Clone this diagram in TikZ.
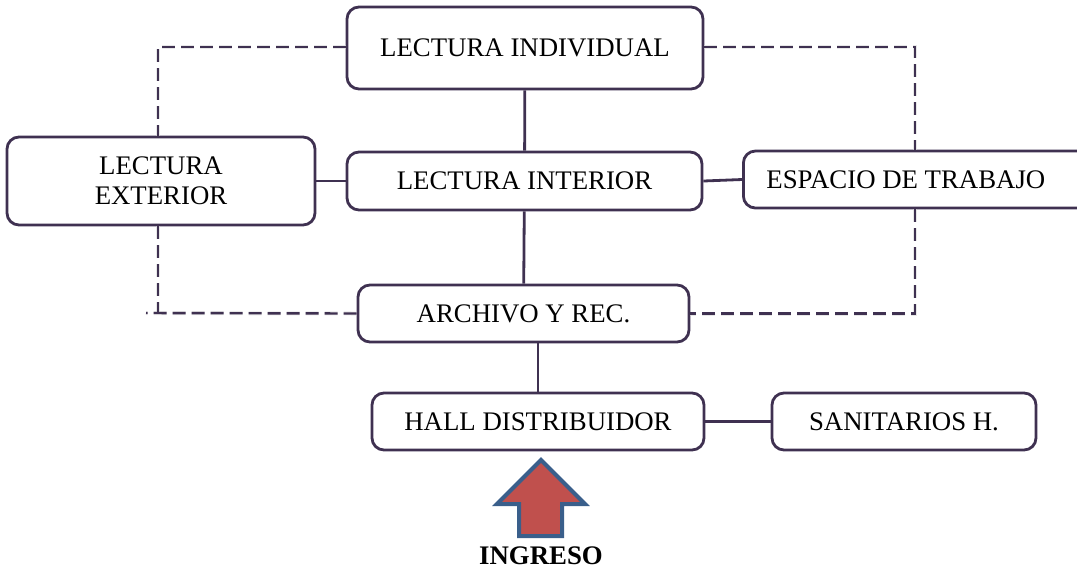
\documentclass[tikz,border=0pt]{standalone}
\usepackage{fontspec}
\setmainfont{Liberation Serif}
\usepackage{xcolor}
\usetikzlibrary{arrows.meta}
\definecolor{linecol}{HTML}{3F3151}
\definecolor{arrowfill}{HTML}{C0504D}
\definecolor{arrowline}{HTML}{3A5F8B}

\begin{document}
\begin{tikzpicture}[x=0.5pt, y=-0.5pt,
    box/.style={draw=linecol, line width=1.4pt, rounded corners=6pt, fill=white,
        font=\fontsize{13.4}{15}\selectfont, align=center, inner sep=0pt},
    link/.style={draw=linecol, line width=1.4pt},
    dashlink/.style={draw=linecol, line width=1.2pt, dash pattern=on 6.5pt off 3pt},
    dashshade/.style={draw=black!15, line width=2pt, dash pattern=on 6.5pt off 3pt, yshift=-2.5pt, opacity=0.6}]
    \useasboundingbox (0,0) rectangle (1077,570);
    % boxes
    \node[box, minimum width=178pt, minimum height=41pt] (indiv) at (525,48) {LECTURA INDIVIDUAL};
    \node[box, minimum width=154pt, minimum height=44pt] (exterior) at (161,181) {LECTURA\\EXTERIOR};
    \node[box, minimum width=177.5pt, minimum height=29pt] (interior) at (524.5,181) {LECTURA INTERIOR};
    \node[box, anchor=west, inner xsep=11.5pt, minimum height=28.5pt] (espacio) at (742,179.5) {\makebox[170pt][l]{ESPACIO DE TRABAJO}};
    \node[box, minimum width=165.5pt, minimum height=28.5pt] (archivo) at (523.5,313.5) {ARCHIVO Y REC.};
    \node[box, minimum width=166pt, minimum height=28.5pt] (hall) at (538,421.5) {HALL DISTRIBUIDOR};
    \node[box, minimum width=132pt, minimum height=28.5pt] (sanitarios) at (904,421.5) {SANITARIOS H.};
    \node[font=\fontsize{13.4}{15}\selectfont\bfseries, inner sep=0pt] (ingreso) at (541,556) {INGRESO};
    % corners of the dashed frame
    \coordinate (lt) at (158,47);
    \coordinate (lb) at (146,313);
    \coordinate (rt) at (915,47);
    % dashed frame
    \foreach \st in {dashshade, dashlink} {
        \draw[\st] (indiv.west |- lt) -- (lt) -- (lt |- exterior.north);
        \draw[\st] (lt |- exterior.south) -- (lt |- archivo.west);
        \draw[\st] (archivo.west) -- (lb);
        \draw[\st] (indiv.east |- rt) -- (rt) -- (rt |- espacio.north);
        \draw[\st] (rt |- espacio.south) -- (rt |- archivo.east) -- (archivo.east);
    }
    % solid links
    \draw[link] (indiv) -- (interior);
    \draw[link] (interior) -- (archivo);
    \draw[link] (hall.north) -- (hall.north |- archivo.south);
    \draw[link] (exterior.east) -- (interior.west);
    \draw[link] (interior.east) -- (espacio.west);
    \draw[link] (hall) -- (sanitarios);
    % entrance arrow
    \draw[draw=arrowline, fill=arrowfill, line width=2pt, line join=miter]
        (541,460) -- (585,504) -- (562,504) -- (562,536) -- (519,536) -- (519,504) -- (497,504) -- cycle;
\end{tikzpicture}
\end{document}
